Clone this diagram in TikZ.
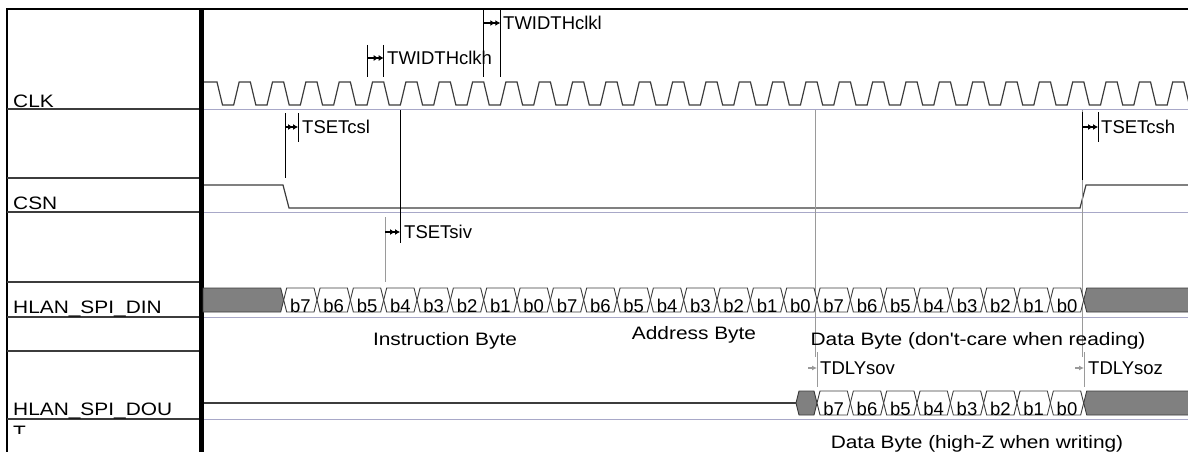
\documentclass[tikz,border=0pt]{standalone}
\usepackage{fontspec}
\setmainfont{Liberation Sans}
\newfontfamily\annofont{Liberation Sans}
\newfontfamily\labelfont[FakeStretch=1.16]{Liberation Sans}
\usetikzlibrary{arrows.meta}

\definecolor{sigcol}{HTML}{3C3C3C}
\definecolor{gridcol}{HTML}{A8A8C8}
\definecolor{markcol}{HTML}{9A9A9A}
\definecolor{zcol}{HTML}{808080}

\tikzset{
  sigline/.style={sigcol, line width=1.2pt},
  rowline/.style={sigcol, line width=1.1pt},
  gridline/.style={gridcol, line width=1pt},
  cell/.style={draw=sigcol, line width=0.9pt, fill=white},
  zcell/.style={draw=sigcol, line width=0.9pt, fill=zcol},
  tmark/.style={black, line width=0.8pt},
  gmark/.style={markcol, line width=1pt},
  tarrow/.style={black, line width=1.2pt, -{Latex[length=5pt,width=6pt]Latex[length=5pt,width=6pt]}},
  garrow/.style={markcol, line width=1.2pt, -{Latex[length=5pt,width=5pt]}},
  anno/.style={font=\annofont\fontsize{18.5}{20}\selectfont, inner sep=0pt},
  siglabel/.style={font=\labelfont\fontsize{18}{20}\selectfont, inner sep=0pt},
  bitlabel/.style={font=\annofont\fontsize{18.5}{20}\selectfont, inner sep=0pt, anchor=base}
}

\begin{document}
\begin{tikzpicture}[x=1pt,y=-1pt]
\useasboundingbox (0,0) rectangle (1188,452);
\clip (0,0) rectangle (1188,452);

% frame and rows
\draw[black, line width=1.2pt] (7,452) -- (7,9) -- (1188,9);
\foreach \yy in {109,178,212,282,317,351,419}
  \draw[rowline] (7,\yy) -- (200,\yy);
\foreach \yy in {109,212,317,419}
  \draw[gridline] (204,\yy) -- (1188,\yy);
\draw[black, line width=5pt] (201.5,9) -- (201.5,452);

% signal names
\node[siglabel, anchor=base west] (clk) at (13,107) {CLK};
\node[siglabel, anchor=base west] (csn) at (13,209) {CSN};
\node[siglabel, anchor=base west] (din) at (13,313) {HLAN\_SPI\_DIN};
\node[siglabel, anchor=base west] (dou) at (13,415) {HLAN\_SPI\_DOU};
\begin{scope}
  \clip (7,420) rectangle (199,433);
  \node[siglabel, anchor=base west] (tlab) at (13,438) {T};
\end{scope}

% clock
\draw[sigline] (204,82) -- (217,82)
  \foreach \k in {0,...,29}{ -- ++(5.5,23) -- ++(11.17,0) -- ++(5.5,-23) -- ++(11.17,0) };

% chip select
\draw[sigline] (204,185) -- (283,185) -- (289,208) -- (1080,208) -- (1086,185) -- (1190,185);

% long marker lines
\draw[gmark] (815,110) -- (815,357);
\draw[gmark] (1082,110) -- (1082,357);

% data in
\draw[zcell] (203,288) -- (280.7,288) -- (283.7,300) -- (280.7,312) -- (203,312) -- cycle;
\foreach \i in {0,...,23}{
  \pgfmathsetmacro{\xa}{283.7+33.333*\i}
  \pgfmathtruncatemacro{\bitno}{7-mod(\i,8)}
  \draw[cell] (\xa,300) -- ++(3,-12) -- ++(27.33,0) -- ++(3,12) -- ++(-3,12) -- ++(-27.33,0) -- cycle;
  \node[bitlabel] (din\i) at (\xa+16.67,312.5) {b\bitno};
}
\draw[zcell] (1083.7,300) -- (1086.7,288) -- (1192,288) -- (1192,312) -- (1086.7,312) -- cycle;

% data out
\draw[sigline] (204,403) -- (796,403);
\draw[zcell] (796,403) -- (799,391) -- (814,391) -- (817,403) -- (814,415) -- (799,415) -- cycle;
\foreach \i in {0,...,7}{
  \pgfmathsetmacro{\xa}{817+33.333*\i}
  \pgfmathtruncatemacro{\bitno}{7-\i}
  \draw[cell] (\xa,403) -- ++(3,-12) -- ++(27.33,0) -- ++(3,12) -- ++(-3,12) -- ++(-27.33,0) -- cycle;
  \node[bitlabel] (dou\i) at (\xa+16.67,415.5) {b\bitno};
}
\draw[zcell] (1083.7,403) -- (1086.7,391) -- (1192,391) -- (1192,415) -- (1086.7,415) -- cycle;

% byte names
\node[siglabel, anchor=base] (instr) at (445,345) {Instruction Byte};
\node[siglabel, anchor=base] (addr) at (694,339) {Address Byte};
\node[siglabel, anchor=base] (dwrite) at (978,345) {Data Byte (don't-care when reading)};
\node[siglabel, anchor=base] (dread) at (977,448) {Data Byte (high-Z when writing)};

% clock widths
\draw[tmark] (367,45) -- (367,77);
\draw[tmark] (383.7,45) -- (383.7,77);
\draw[tarrow] (367,58) -- (383.7,58);
\node[anno, anchor=west] (twclkh) at (387,58) {TWIDTHclkh};
\draw[tmark] (483.7,9) -- (483.7,77);
\draw[tmark] (500.3,9) -- (500.3,77);
\draw[tarrow] (483.7,23) -- (500.3,23);
\node[anno, anchor=west] (twclkl) at (503,23) {TWIDTHclkl};

% chip select setup
\draw[tmark] (285,113) -- (285,178);
\draw[tmark] (298,113) -- (298,142);
\draw[tarrow] (285,127) -- (298,127);
\node[anno, anchor=west] (tsetcsl) at (302,127) {TSETcsl};
\draw[tmark] (1082,112) -- (1082,180);
\draw[tmark] (1098,112) -- (1098,142);
\draw[tarrow] (1082,127) -- (1098,127);
\node[anno, anchor=west] (tsetcsh) at (1101,127) {TSETcsh};

% input setup
\draw[tmark] (400,110) -- (400,243);
\draw[gmark] (385,217) -- (385,282);
\draw[tarrow] (385,232) -- (400,232);
\node[anno, anchor=west] (tsetsiv) at (404,232) {TSETsiv};

% output delays
\draw[gmark] (817,352) -- (817,387);
\draw[garrow] (808,368) -- (817,368);
\node[anno, anchor=west] (tdlysov) at (820,368) {TDLYsov};
\draw[gmark] (1084,352) -- (1084,387);
\draw[garrow] (1075,368) -- (1084,368);
\node[anno, anchor=west] (tdlysoz) at (1088,368) {TDLYsoz};
\end{tikzpicture}
\end{document}
